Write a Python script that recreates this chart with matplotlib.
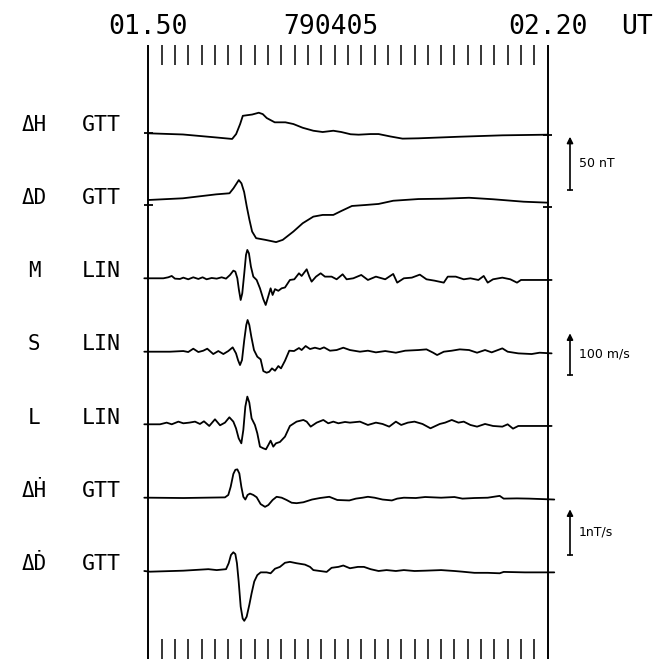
import numpy as np
import matplotlib
matplotlib.use('Agg')
import matplotlib.pyplot as plt

# 時間はすべて 01.50 UT からの分、振幅は物理単位
# ΔH GTT (nT)
dh_t = [0, 2.6, 5.1, 6.3, 6.6, 6.9, 7.1, 7.5, 7.8, 8.3, 8.6, 8.9, 9.5, 10.3, 10.9,
        11.6, 12.4, 13.1, 13.9, 14.5, 15.2, 15.8, 16.7, 17.3, 18.2, 19.1, 20.3,
        23.4, 26.6, 30.0]
dh_v = [0, -1.1, -3.9, -5.3, -0.7, 8.7, 16.4, 17.1, 17.6, 19.3, 18.0, 14.3, 10.3,
        10.3, 8.7, 5.2, 2.4, 1.2, 2.4, 1.2, -0.9, -1.3, -0.7, -0.7, -3.0, -5.0,
        -4.7, -3.2, -1.9, -1.3]

# ΔD GTT (nT)
dd_t = [0, 2.6, 5.1, 6.1, 6.4, 6.8, 7.0, 7.2, 7.4, 7.6, 7.8, 8.1, 8.8, 9.6, 10.1,
        10.9, 11.6, 12.4, 13.1, 13.9, 14.5, 15.3, 16.3, 17.3, 18.4, 20.3, 22.1,
        24.1, 25.9, 28.2, 30.0]
dd_v = [0, 1.6, 5.3, 6.3, 11.0, 18.7, 15.6, 7.5, -6.3, -18.7, -29.6, -35.8, -37.4,
        -39.5, -37.4, -29.6, -21.8, -15.6, -14.0, -14.0, -10.3, -5.6, -4.7, -3.7,
        -0.7, 0.9, 1.2, 2.1, 0.7, -1.6, -2.5]

# M LIN (m/s)
m_t = [-0.3, 0.13, 1.13, 1.5, 1.76, 2.0, 2.38, 2.63, 3.0, 3.38, 3.76, 4.08, 4.38,
       4.76, 5.14, 5.51, 5.84, 6.14, 6.39, 6.54, 6.69, 6.81, 6.94, 7.06, 7.21,
       7.34, 7.44, 7.56, 7.71, 7.89, 8.14, 8.39, 8.64, 8.82, 8.97, 9.19, 9.34,
       9.52, 9.77, 10.02, 10.27, 10.64, 10.97, 11.32, 11.52, 11.9, 12.1, 12.27,
       12.6, 12.95, 13.27, 13.77, 14.15, 14.6, 14.9, 15.4, 16.0, 16.5, 17.1,
       17.8, 18.4, 18.7, 19.2, 19.8, 20.4, 20.9, 21.5, 22.2, 22.5, 23.1, 23.7,
       24.2, 24.8, 25.2, 25.5, 25.9, 26.6, 27.2, 27.7, 28.0, 29.1, 30.3]
m_v = [0, 0, 0, 2.4, 5.6, -0.8, -1.6, 1.6, -2.4, 2.4, -1.6, 2.4, -2.4, 0.8, -0.8,
       2.4, -0.8, 8, 18.4, 16, 0, -28, -52, -36, 12, 56, 68, 60, 28, 4, -4, -24,
       -50, -64, -48, -24, -40, -26, -30, -24, -22, -4, -2.4, 12, 5.6, 21.6, 4,
       -8, 4, 12, 4, 4, -2.4, 9.6, -2.4, 0, 8, -4, 4, -2.4, 10.4, -10.4, 0, 1.6,
       8.8, -2.4, -5.6, -10.4, 4, 4, -2.4, 0, -4, 5.6, -10.4, -2.4, 1.6, -2.4,
       -10.4, -4, -4, -4]

# S LIN (m/s)
s_t = [-0.3, 0.13, 1.63, 2.63, 3.0, 3.38, 3.76, 4.13, 4.43, 4.88, 5.26, 5.64,
       6.01, 6.34, 6.59, 6.74, 6.89, 7.04, 7.21, 7.36, 7.46, 7.59, 7.74, 7.94,
       8.19, 8.44, 8.64, 8.89, 9.09, 9.29, 9.52, 9.77, 9.97, 10.27, 10.59,
       10.95, 11.32, 11.52, 11.82, 12.15, 12.52, 12.9, 13.2, 13.65, 14.15,
       14.65, 15.15, 15.9, 16.5, 17.1, 17.8, 18.6, 19.3, 20.3, 20.9, 21.4, 21.7,
       22.2, 22.8, 23.4, 24.1, 24.7, 25.3, 25.8, 26.6, 27.0, 27.8, 28.8, 29.4,
       30.3]
s_v = [0, 0, 0, 1.6, -0.8, 7.2, -0.8, 2.4, 7.2, -5.6, 1.6, -5.6, 1.6, 10.4, -4,
       -20, -32, -20, 28, 64, 76, 64, 36, 4, -12, -18.4, -46.4, -50.4, -48, -40,
       -45.6, -34.4, -40, -21.6, 2.4, 1.6, 8.8, 4, 13.6, 6.4, 9.6, 6.4, 10.4,
       2.4, 4, 9.6, 4, 0, 2.4, -1.6, 1.6, -2.4, 2.4, 4, 5.6, -2.4, -8, 0, 2.4,
       5.6, 4, -2.4, 4, -1.6, 8, 0, -4, -5.6, -2.4, -4]

# L LIN (m/s)
l_t = [-0.3, 0.13, 0.88, 1.38, 1.76, 2.26, 2.63, 3.08, 3.51, 3.88, 4.18, 4.58,
       5.01, 5.39, 5.76, 6.09, 6.39, 6.59, 6.79, 6.99, 7.14, 7.29, 7.44, 7.59,
       7.76, 8.01, 8.19, 8.39, 8.64, 8.84, 9.02, 9.19, 9.39, 9.59, 9.89, 10.27,
       10.64, 11.14, 11.65, 11.9, 12.2, 12.65, 13.15, 13.52, 13.9, 14.28, 14.78,
       15.15, 15.9, 16.5, 17.1, 17.6, 18.1, 18.6, 19.0, 19.5, 20.0, 20.6, 21.2,
       21.9, 22.3, 22.8, 23.3, 23.7, 24.2, 24.7, 25.3, 25.9, 26.6, 27.0, 27.4,
       27.8, 29.1, 30.3]
l_v = [0, 0, 0, 4, 0, 6.4, 2.4, 4, 6.4, 0.8, 7.2, -4, 12, -2.4, 4, 16.8, 6.4,
       -9.6, -33.6, -45.6, -13.6, 42.4, 66.4, 52, 14.4, -1.6, -21.6, -53.6,
       -57.6, -60, -49.6, -39.2, -53.6, -45.6, -42.4, -29.6, -4, 6.4, 10.4, 6.4,
       -5.6, 4, 10.4, 2.4, 6.4, 2.4, 5.6, 4, 6.4, -1.6, 4, 0.8, -5.6, 6.4, -1.6,
       4, 6.4, 0.8, -9.6, 0.8, 4, 10.4, 4, 6.4, -1.6, -5.6, 0.8, -4, -5.6, 0,
       -10.4, -4, -4, -4]

# dH/dt GTT (nT/s)
hdot_t = [-0.3, 0.13, 2.63, 5.76, 6.01, 6.19, 6.39, 6.54, 6.69, 6.84, 6.99, 7.14,
          7.29, 7.46, 7.64, 7.89, 8.14, 8.44, 8.77, 9.02, 9.34, 9.64, 10.02,
          10.39, 10.77, 11.14, 11.65, 12.3, 12.9, 13.6, 14.2, 15.1, 15.6, 16.1,
          16.5, 17.0, 17.6, 18.3, 18.7, 19.2, 20.1, 20.8, 22.0, 23.0, 23.6,
          24.5, 25.5, 26.4, 26.7, 27.7, 28.6, 30.5]
hdot_v = [0, 0, -0.007, 0.007, 0.06, 0.24, 0.52, 0.61, 0.62, 0.53, 0.24, 0.02,
          -0.04, 0.06, 0.09, 0.06, 0.01, -0.14, -0.2, -0.16, -0.05, 0.02, 0,
          -0.05, -0.11, -0.12, -0.1, -0.04, -0.007, 0.02, -0.05, -0.06, -0.02, 0,
          0.02, 0, -0.04, -0.06, -0.02, 0, -0.007, 0.015, 0, 0.015, -0.02,
          -0.007, 0, 0.04, -0.02, -0.015, -0.02, -0.04]

# dD/dt GTT (nT/s)
ddot_t = [-0.3, 0.13, 2.63, 4.51, 5.14, 5.84, 6.04, 6.21, 6.39, 6.54, 6.66, 6.79,
          6.94, 7.09, 7.21, 7.39, 7.59, 7.76, 7.96, 8.19, 8.44, 8.89, 9.19, 9.52,
          9.89, 10.27, 10.64, 11.14, 11.77, 12.15, 12.4, 12.9, 13.4, 13.77,
          14.28, 14.65, 15.15, 15.75, 16.2, 16.7, 17.3, 17.9, 18.6, 19.2, 20.0,
          20.8, 22.0, 23.0, 23.6, 24.5, 25.5, 26.4, 26.7, 28.3, 30.5]
ddot_v = [0, -0.015, 0.007, 0.04, 0.02, 0.04, 0.17, 0.35, 0.41, 0.37, 0.17, -0.23,
          -0.78, -1.04, -1.09, -1.0, -0.74, -0.49, -0.23, -0.09, -0.03, -0.03,
          -0.05, 0.05, 0.09, 0.18, 0.2, 0.17, 0.14, 0.09, 0.02, 0, -0.02, 0.07,
          0.09, 0.12, 0.06, 0.09, 0.09, 0.04, 0, 0.02, 0, 0.02, 0, 0.007, 0.02, 0,
          -0.015, -0.04, -0.04, -0.05, -0.02, -0.03, -0.03]

comp_labels = ['ΔH', 'ΔD', 'M', 'S', 'L', 'ΔḢ', 'ΔḊ']
station_labels = ['GTT', 'GTT', 'LIN', 'LIN', 'LIN', 'GTT', 'GTT']
time_labels = ['01.50', '790405', '02.20', 'UT']
scale_labels = ['50 nT', '100 m/s', '1nT/s']
scale_values = [50, 100, 1]

# レイアウト（ピクセル単位）
PX_PER_MIN = 13.31
X0 = 148.3
GAIN_NT = 1.066      # px / nT
GAIN_MS = 0.417      # px / (m/s)
GAIN_NTS = 45.7      # px / (nT/s)
baselines = [133.3, 200.0, 278.3, 351.7, 424.3, 497.7, 571.0]
gains = [GAIN_NT, GAIN_NT, GAIN_MS, GAIN_MS, GAIN_MS, GAIN_NTS, GAIN_NTS]
series = [(dh_t, dh_v), (dd_t, dd_v), (m_t, m_v), (s_t, s_v), (l_t, l_v),
          (hdot_t, hdot_v), (ddot_t, ddot_v)]

MONO = ['DejaVu Sans Mono', 'DejaVu Sans']

fig = plt.figure(figsize=(6.56, 6.59), dpi=100)
ax = fig.add_axes([0, 0, 1, 1])
ax.set_xlim(-X0 / PX_PER_MIN, (656 - X0) / PX_PER_MIN)
ax.set_ylim(659, 0)
ax.axis('off')

# ============ トレース ============
for (t, v), base, g in zip(series, baselines, gains):
    ax.plot(t, base - np.array(v) * g, color='black', lw=1.3,
            solid_joinstyle='round', solid_capstyle='round')

# ΔH, ΔD の基準マーク
ref_marks = [(133.3, 134.5), (204.5, 207.3)]
for left_y, right_y in ref_marks:
    ax.hlines(left_y, -0.35, 0.35, color='black', lw=1.3)
    ax.hlines(right_y, 29.65, 30.35, color='black', lw=1.3)

# ============ 枠と時間目盛 ============
ax.vlines([0, 30], 45, 659, color='black', lw=1.4)
minutes = np.arange(1, 30)
ax.vlines(minutes, 45, 65, color='black', lw=1.1)
ax.vlines(minutes, 639, 659, color='black', lw=1.1)

ax.text(0, 33.5, time_labels[0], ha='center', va='baseline', fontsize=19, family=MONO)
ax.text(13.7, 33.5, time_labels[1], ha='center', va='baseline', fontsize=19, family=MONO)
ax.text(30, 33.5, time_labels[2], ha='center', va='baseline', fontsize=19, family=MONO)
ax.text(36.75, 33.5, time_labels[3], ha='center', va='baseline', fontsize=19, family=MONO)

# ============ ラベル ============
label_y = [132, 204.5, 278, 351.5, 424.5, 498, 571.5]
for comp, stn, y in zip(comp_labels, station_labels, label_y):
    ax.text((34 - X0) / PX_PER_MIN, y - 1, comp, ha='center', va='baseline',
            fontsize=15, family=MONO)
    ax.text((82 - X0) / PX_PER_MIN, y - 1, stn, ha='left', va='baseline',
            fontsize=15.5, family=MONO)

# ============ スケールバー ============
bar_t = (570 - X0) / PX_PER_MIN
bar_bottoms = [190, 375, 555]
bar_gains = [GAIN_NT, GAIN_MS, GAIN_NTS]
for lab, val, bottom, g in zip(scale_labels, scale_values, bar_bottoms, bar_gains):
    top = bottom - val * g
    ax.annotate('', xy=(bar_t, top), xytext=(bar_t, bottom),
                arrowprops=dict(arrowstyle='-|>', color='black', lw=1.2,
                                mutation_scale=9, shrinkA=0, shrinkB=0))
    ax.hlines(bottom, bar_t - 0.25, bar_t + 0.25, color='black', lw=1.2)
    ax.text(bar_t + 0.65, (top + bottom) / 2, lab, ha='left', va='center',
            fontsize=9)

fig.savefig('out.png', dpi=100)
